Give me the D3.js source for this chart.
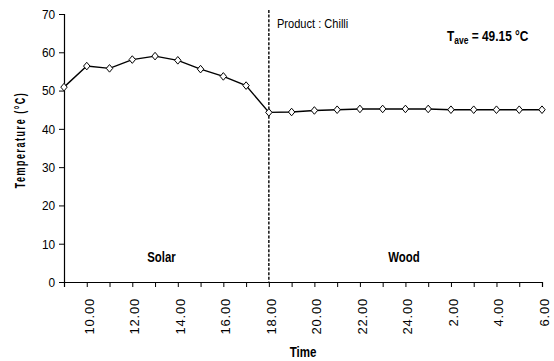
<!DOCTYPE html>
<html><head><meta charset="utf-8">
<script src="https://cdn.jsdelivr.net/npm/d3@7"></script>
<style>body{margin:0;background:#fff}svg{display:block}text{font-family:"Liberation Sans",Arial,sans-serif}</style>
</head><body><svg id="c" width="554" height="361"></svg>
<script>
const times = ["9.00","10.00","11.00","12.00","13.00","14.00","15.00","16.00","17.00","18.00","19.00","20.00","21.00","22.00","23.00","24.00","1.00","2.00","3.00","4.00","5.00","6.00"];
const temps = [50.9,56.4,55.8,58.1,59.0,57.9,55.6,53.7,51.3,44.3,44.4,44.8,45.0,45.2,45.2,45.2,45.2,45.0,45.0,45.0,45.0,45.0];
const tickLabels = ["10.00","12.00","14.00","16.00","18.00","20.00","22.00","24.00","2.00","4.00","6.00"];
const yTicks = [0,10,20,30,40,50,60,70];
const divider = "18.00";

const svg = d3.select("#c");
const x = d3.scalePoint().domain(times).range([64, 542]);
const y = d3.scaleLinear().domain([0,70]).range([282, 14]);

// y axis
const ya = svg.append("g").attr("transform",`translate(64,0)`)
  .call(d3.axisLeft(y).tickValues(yTicks).tickSize(5).tickPadding(5));
ya.select(".domain").attr("stroke","#000").attr("stroke-width",1.2);
ya.selectAll(".tick line").attr("stroke","#000");
ya.selectAll(".tick text").attr("font-size",13.5).attr("fill","#000")
  .attr("transform","scale(0.88,1)");

// x axis
const xa = svg.append("g").attr("transform",`translate(0,282)`)
  .call(d3.axisBottom(x).tickSizeOuter(0).tickSize(5).tickFormat(d => tickLabels.includes(d) ? d : ""));
xa.select(".domain").attr("stroke","#000").attr("stroke-width",1.2);
xa.selectAll(".tick line").attr("stroke","#000");
xa.selectAll(".tick text").attr("font-size",13).attr("fill","#000")
  .attr("letter-spacing","0.8px")
  .attr("transform","rotate(-90)")
  .attr("text-anchor","end")
  .attr("x",-16).attr("y",0).attr("dy","0.5em");

// divider dashed line
svg.append("line").attr("x1",x(divider)).attr("x2",x(divider)).attr("y1",10).attr("y2",282)
  .attr("stroke","#000").attr("stroke-width",1.4).attr("stroke-dasharray","3,1.6");

// line
const data = times.map((t,i)=>({t, v:temps[i]}));
svg.append("path").datum(data)
  .attr("d", d3.line().x(d=>x(d.t)).y(d=>y(d.v)))
  .attr("fill","none").attr("stroke","#000").attr("stroke-width",1.4);

// markers
svg.append("g").selectAll("path").data(data).join("path")
  .attr("transform",d=>`translate(${x(d.t)},${y(d.v)})`)
  .attr("d","M0,-3.8L3.2,0L0,3.8L-3.2,0Z")
  .attr("fill","#fff").attr("stroke","#000").attr("stroke-width",1);

// texts
function label(tx, ty, sx, str, size, bold, anchor){
  return svg.append("text").attr("transform",`translate(${tx},${ty}) scale(${sx},1)`)
    .attr("text-anchor",anchor||"start").attr("font-size",size)
    .attr("font-weight",bold?"bold":"normal").text(str);
}
label(277, 28, 0.82, "Product : Chilli", 13.5, false);
const tv = svg.append("text").attr("transform","translate(447,40.5) scale(0.85,1)").attr("font-size",14).attr("font-weight","bold");
tv.append("tspan").text("T");
tv.append("tspan").attr("font-size",10).attr("dy",3).text("ave");
tv.append("tspan").attr("dy",-3).text(" = 49.15 °C");
label(161.5, 262, 0.76, "Solar", 15, true, "middle");
label(404, 262, 0.76, "Wood", 15, true, "middle");
label(303, 356.5, 0.77, "Time", 15, true, "middle");
svg.append("text").attr("transform","translate(25,140) rotate(-90) scale(0.64,1)").attr("text-anchor","middle")
  .attr("font-size",14).attr("font-weight","bold").attr("letter-spacing","2.4px")
  .text("Temperature (°C)");
</script></body></html>
